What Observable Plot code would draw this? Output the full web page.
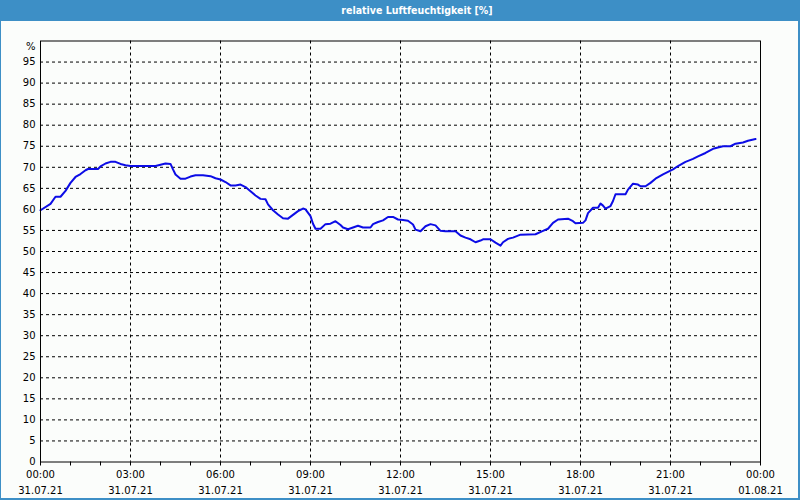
<!DOCTYPE html>
<html><head><meta charset="utf-8">
<script src="https://cdn.jsdelivr.net/npm/d3@7"></script>
<script src="https://cdn.jsdelivr.net/npm/@observablehq/plot@0.6"></script>
<style>
body{margin:0;}
#wrap{position:relative;width:800px;height:500px;background:#3d8fc6;overflow:hidden;font-family:"DejaVu Sans",sans-serif;}
#title{position:absolute;left:0;top:0;width:800px;height:21px;line-height:21px;text-align:center;color:#fff;font-weight:bold;font-size:10.5px;padding-left:34px;box-sizing:border-box;font-family:"DejaVu Sans Condensed","DejaVu Sans",sans-serif;}
#panel{position:absolute;left:1px;top:21px;width:797px;height:477px;background:#fbfdfb;}
#chart{position:absolute;left:0;top:21px;}
</style></head><body>
<div id="wrap"><div id="title">relative Luftfeuchtigkeit [%]</div><div id="panel"></div><div id="chart"></div></div>
<script>
const times = ["00:00","00:20","00:30","00:40","00:50","01:00","01:10","01:20","01:30","01:35","01:55","02:00","02:10","02:20","02:30","02:40","02:50","03:00","03:50","04:00","04:10","04:20","04:25","04:30","04:40","04:50","05:00","05:10","05:25","05:40","05:50","06:00","06:10","06:20","06:30","06:40","06:50","07:00","07:10","07:20","07:30","07:35","07:45","07:55","08:05","08:15","08:25","08:35","08:45","08:50","09:00","09:05","09:10","09:20","09:30","09:40","09:50","10:00","10:05","10:15","10:25","10:35","10:45","11:00","11:05","11:15","11:25","11:35","11:45","11:55","12:05","12:15","12:25","12:30","12:40","12:50","13:00","13:10","13:20","13:30","13:50","14:00","14:10","14:20","14:30","14:40","14:45","15:00","15:10","15:20","15:25","15:35","15:45","16:00","16:30","16:45","16:55","17:05","17:15","17:35","17:45","17:50","18:05","18:10","18:15","18:25","18:35","18:40","18:45","18:50","19:00","19:05","19:10","19:30","19:35","19:45","19:55","20:00","20:10","20:20","20:30","20:45","20:55","21:05","21:15","21:30","21:45","21:55","22:10","22:25","22:45","23:00","23:10","23:25","23:35","23:50"];
const humidity = [59.8,61.3,63.0,63.0,64.4,66.3,67.7,68.4,69.3,69.6,69.6,70.2,70.9,71.3,71.3,70.8,70.5,70.3,70.3,70.6,70.9,70.8,69.5,68.3,67.3,67.3,67.8,68.1,68.1,67.9,67.4,67.1,66.5,65.7,65.7,65.9,65.3,64.3,63.3,62.5,62.4,61.2,59.8,58.8,57.9,57.8,58.7,59.6,60.2,60.0,58.4,56.6,55.4,55.4,56.5,56.6,57.2,56.3,55.7,55.3,55.7,56.1,55.7,55.7,56.5,57.0,57.4,58.2,58.2,57.6,57.5,57.3,56.4,55.2,54.8,56.0,56.5,56.2,54.9,54.8,54.8,53.8,53.3,52.9,52.2,52.6,52.9,52.9,52.1,51.4,52.2,53.0,53.3,54.0,54.1,54.9,55.4,56.8,57.6,57.8,57.2,56.7,56.8,57.4,59.1,60.4,60.4,61.4,60.9,60.2,60.8,62.0,63.6,63.6,64.7,66.1,65.9,65.5,65.5,66.3,67.3,68.3,68.9,69.5,70.3,71.3,72.0,72.6,73.4,74.4,75.0,75.0,75.6,75.9,76.3,76.7];
const xTickHours = [0,3,6,9,12,15,18,21,24];
const xTickTimes = ["00:00","03:00","06:00","09:00","12:00","15:00","18:00","21:00","00:00"];
const xTickDates = ["31.07.21","31.07.21","31.07.21","31.07.21","31.07.21","31.07.21","31.07.21","31.07.21","01.08.21"];
const xMinorTicks = [0,1,2,3,4,5,6,7,8,9,10,11,12,13,14,15,16,17,18,19,20,21,22,23,24];
const yTicks = [0,5,10,15,20,25,30,35,40,45,50,55,60,65,70,75,80,85,90,95];
const yGridLines = [5,10,15,20,25,30,35,40,45,50,55,60,65,70,75,80,85,90,95];
const xGridLines = [3,6,9,12,15,18,21];
const yUnit = ["%"];

const toHours = s => { const [h, m] = s.split(":").map(Number); return h + m / 60; };
const data = times.map((t, i) => ({t: toHours(t), v: humidity[i]}));

const chart = Plot.plot({
  width: 800, height: 479,
  marginLeft: 40, marginRight: 40, marginTop: 19.5, marginBottom: 38.5,
  style: {background: "transparent", fontFamily: "DejaVu Sans", fontSize: "10px", color: "#000", overflow: "visible"},
  x: {domain: [0, 24]},
  y: {domain: [0, 100]},
  marks: [
    Plot.gridY(yGridLines, {stroke: "#000", strokeOpacity: 1, strokeDasharray: "3,3"}),
    Plot.gridX(xGridLines, {stroke: "#000", strokeOpacity: 1, strokeDasharray: "3,3"}),
    Plot.axisY(yTicks, {tickSize: 0, tickPadding: 5, label: null}),
    Plot.text(yUnit, {x: () => 0, y: () => 100, text: d => d, textAnchor: "end", dx: -5, dy: 6}),
    Plot.axisX(xMinorTicks, {tickSize: 4, tickFormat: () => "", label: null}),
    Plot.axisX(xTickHours, {tickSize: 0, tickPadding: 9, tickFormat: d => xTickTimes[xTickHours.indexOf(d)], label: null}),
    Plot.axisX(xTickHours, {tickSize: 0, tickPadding: 25, tickFormat: d => xTickDates[xTickHours.indexOf(d)], label: null}),
    Plot.line(data, {x: "t", y: "v", stroke: "#0c0ce6", strokeWidth: 2}),
    Plot.frame({stroke: "#000"})
  ]
});
document.getElementById("chart").appendChild(chart);
</script>
</body></html>
